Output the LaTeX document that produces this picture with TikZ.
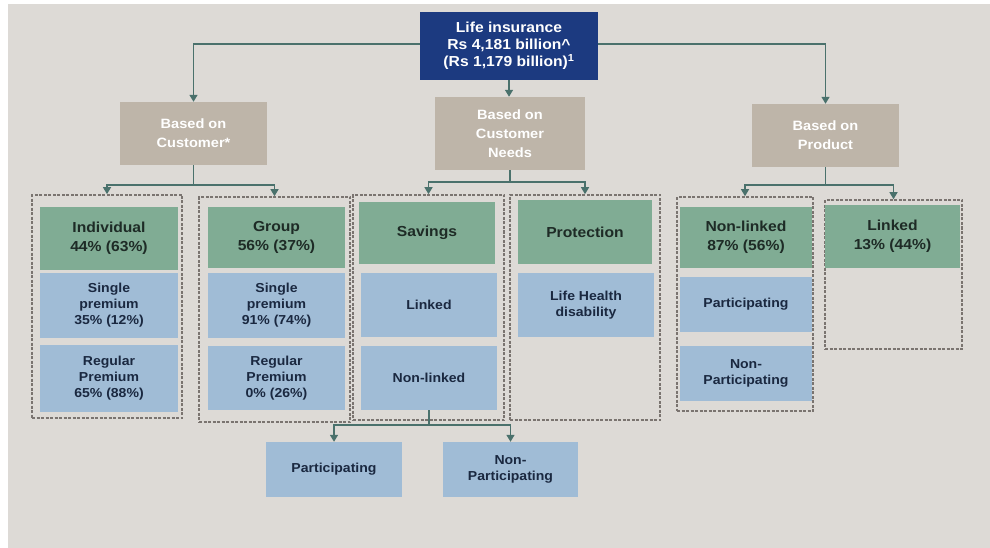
\documentclass[tikz,border=0pt]{standalone}
\usepackage{fontspec}
\setmainfont{Liberation Sans}[FakeStretch=1.08]
\usetikzlibrary{arrows.meta,positioning}

\definecolor{bgrey}{HTML}{DDDAD6}
\definecolor{navy}{HTML}{1C3A80}
\definecolor{tan}{HTML}{BEB5A9}
\definecolor{ngreen}{HTML}{80AC94}
\definecolor{nblue}{HTML}{A0BCD6}
\definecolor{tgreen}{HTML}{1E2B26}
\definecolor{tblue}{HTML}{1A2840}
\definecolor{lteal}{HTML}{4A716C}
\definecolor{dgrey}{HTML}{7A7470}

\begin{document}
\begin{tikzpicture}[%
  x=1pt, y=-1pt,
  top/.style={rectangle, fill=navy, text=white, align=center, inner sep=0pt,
    font=\bfseries\fontsize{14.5}{17}\selectfont},
  basis/.style={rectangle, fill=tan, text=white, align=center, inner sep=0pt,
    minimum width=147, font=\bfseries\fontsize{13.5}{19}\selectfont},
  head/.style={rectangle, fill=ngreen, text=tgreen, align=center, inner sep=0pt,
    font=\bfseries\fontsize{14.5}{19.5}\selectfont},
  sub/.style={rectangle, fill=nblue, text=tblue, align=center, inner sep=0pt,
    font=\bfseries\fontsize{13}{16}\selectfont},
  group/.style={rectangle, draw=dgrey, dash pattern=on 3pt off 1.5pt,
    line width=1.6pt, inner sep=0pt},
  arr/.style={draw=lteal, line width=1.3pt, -{Triangle[length=7pt,width=8pt]}},
  link/.style={draw=lteal, line width=1.3pt},]
  \useasboundingbox (0,0) rectangle (990,548);
  \fill[white] (0,0) rectangle (990,548);
  \fill[bgrey] (8,4) rectangle (990,548);

  % top level
  \node[top, minimum width=178, minimum height=68] (life) at (509,46)
    {Life insurance\\Rs 4,181 billion\textasciicircum\\(Rs 1,179 billion)\textsuperscript{1}};
  \node[basis, minimum height=63] (cust) at (193.5,133.5) {Based on\\Customer*};
  \node[basis, minimum width=150, minimum height=73] (needs) at (510,133.5)
    {Based on\\Customer\\Needs};
  \node[basis, minimum height=63] (prod) at (825.5,135.5) {Based on\\Product};

  % dashed groups
  \node[group, minimum width=150, minimum height=223] (gind) at (107,306.5) {};
  \node[group, minimum width=151, minimum height=225] (ggrp) at (274.5,309.5) {};
  \node[group, minimum width=151, minimum height=225] (gsav) at (428.5,307.5) {};
  \node[group, minimum width=150, minimum height=225] (gpro) at (585,307.5) {};
  \node[group, minimum width=136, minimum height=214] (gnon) at (745,304) {};
  \node[group, minimum width=137, minimum height=149] (glnk) at (893.5,274.5) {};

  % based on customer
  \node[head, minimum width=138, minimum height=63] (ind) at (109,238.5)
    {Individual\\44\% (63\%)};
  \node[sub, minimum width=138, minimum height=65] (indsp) at (109,305.5)
    {Single\\premium\\35\% (12\%)};
  \node[sub, minimum width=138, minimum height=67] (indrp) at (109,378.5)
    {Regular\\Premium\\65\% (88\%)};
  \node[head, minimum width=137, minimum height=61] (grp) at (276.5,237.5)
    {Group\\56\% (37\%)};
  \node[sub, minimum width=137, minimum height=65] (grpsp) at (276.5,305.5)
    {Single\\premium\\91\% (74\%)};
  \node[sub, minimum width=137, minimum height=64] (grprp) at (276.5,378)
    {Regular\\Premium\\0\% (26\%)};

  % based on customer needs
  \node[head, minimum width=136, minimum height=62] (sav) at (427,233) {Savings};
  \node[sub, minimum width=136, minimum height=64] (savl) at (429,305) {Linked};
  \node[sub, minimum width=136, minimum height=64] (savn) at (429,378) {Non-linked};
  \node[head, minimum width=134, minimum height=64] (pro) at (585,232) {Protection};
  \node[sub, minimum width=136, minimum height=64] (prolh) at (586,305)
    {Life Health\\disability};

  % based on product
  \node[head, minimum width=132, minimum height=61] (non) at (746,237.5)
    {Non-linked\\87\% (56\%)};
  \node[sub, minimum width=132, minimum height=55] (nonp) at (746,304.5) {Participating};
  \node[sub, minimum width=132, minimum height=55] (nonn) at (746,373.5)
    {Non-\\Participating};
  \node[head, minimum width=135, minimum height=63] (lnk) at (892.5,236.5)
    {Linked\\13\% (44\%)};

  % below savings
  \node[sub, minimum width=136, minimum height=55] (bpar) at (334,469.5) {Participating};
  \node[sub, minimum width=135, minimum height=55] (bnon) at (510.5,469.5)
    {Non-\\Participating};

  % connectors
  \draw[arr] (life.west |- 0,44) -| (cust.north);
  \draw[arr] (life.east |- 0,44) -| (prod.north);
  \draw[arr] (life.south) -- (life.south |- needs.north);

  \coordinate (custj) at (193.5,185);
  \coordinate (needj) at (510,182);
  \coordinate (prodj) at (825.5,185);
  \coordinate (savj) at (429,425);
  \draw[link] (cust.south) -- (custj);
  \draw[arr] (custj) -| (gind.north);
  \draw[arr] (custj) -| (ggrp.north);
  \draw[link] (needs.south) -- (needj);
  \draw[arr] (needj) -| (gsav.north);
  \draw[arr] (needj) -| (gpro.north);
  \draw[link] (prod.south) -- (prodj);
  \draw[arr] (prodj) -| (gnon.north);
  \draw[arr] (prodj) -| (glnk.north);
  \draw[link] (savn.south) -- (savj);
  \draw[arr] (savj) -| (bpar.north);
  \draw[arr] (savj) -| (bnon.north);
\end{tikzpicture}
\end{document}
